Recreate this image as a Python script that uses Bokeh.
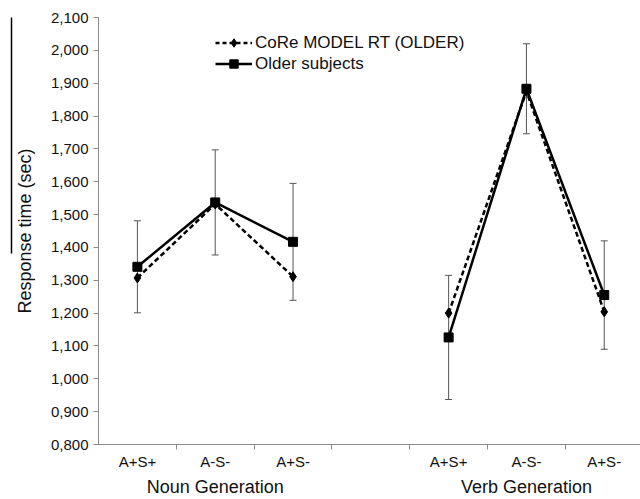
from bokeh.plotting import figure
from bokeh.models import (ColumnDataSource, FixedTicker, LinearAxis, Whisker, TeeHead,
                          Range1d, Legend, LegendItem)
from bokeh.embed import file_html
from bokeh.resources import INLINE

# ---- data ----
categories = ["A+S+", "A-S-", "A+S-", "", "A+S+", "A-S-", "A+S-"]
groups = ["Noun Generation", "Verb Generation"]
noun_idx = [0, 1, 2]
verb_idx = [4, 5, 6]
model_noun = [1307, 1532, 1311]
model_verb = [1200, 1875, 1204]
older_noun = [1341, 1537, 1417]
older_verb = [1126, 1883, 1255]
err_noun = [140, 160, 178]
err_verb = [189, 137, 165]
y_ticks = [800, 900, 1000, 1100, 1200, 1300, 1400, 1500, 1600, 1700, 1800, 1900, 2000, 2100]
y_tick_labels = ["0,800", "0,900", "1,000", "1,100", "1,200", "1,300", "1,400", "1,500",
                 "1,600", "1,700", "1,800", "1,900", "2,000", "2,100"]

FONT = "Liberation Sans"
AXIS_GRAY = "#8a8a8a"
ERR_GRAY = "#555555"
TXT = "#111111"

xn = [i + 0.5 for i in noun_idx]
xv = [i + 0.5 for i in verb_idx]

p = figure(width=640, height=499, output_backend="svg", toolbar_location=None,
           x_range=Range1d(0, 6.966), y_range=Range1d(800, 2100),
           min_border_left=98, min_border_right=0, min_border_top=17, min_border_bottom=55)
p.outline_line_color = None
p.grid.visible = False
p.xaxis.visible = False
p.yaxis.visible = False

# y axis
yax = LinearAxis(ticker=FixedTicker(ticks=y_ticks, minor_ticks=[]),
                 major_label_overrides={t: l for t, l in zip(y_ticks, y_tick_labels)},
                 axis_label="Response time (sec)")
yax.axis_line_color = AXIS_GRAY
yax.major_tick_line_color = AXIS_GRAY
yax.major_tick_out = 5
yax.major_tick_in = 0
yax.minor_tick_line_color = None
yax.major_label_text_font = FONT
yax.major_label_text_font_size = "15px"
yax.major_label_text_color = TXT
yax.major_label_standoff = 5
yax.axis_label_text_font = FONT
yax.axis_label_text_font_size = "18px"
yax.axis_label_text_font_style = "normal"
yax.axis_label_text_color = TXT
yax.axis_label_standoff = 13
p.add_layout(yax, "left")

# thin dark line seen at the far left of the original picture (an axis line with no ticks)
edge = LinearAxis(ticker=FixedTicker(ticks=[], minor_ticks=[]), bounds=(1381, 2155))
edge.axis_line_color = "black"
edge.axis_line_width = 1.5
edge.major_tick_line_color = None
edge.minor_tick_line_color = None
edge.major_tick_out = 0
edge.major_label_text_font_size = "0px"
edge.major_label_standoff = 0
p.add_layout(edge, "left")

# x axis: category labels at centres, ticks at boundaries
centers = [i + 0.5 for i in range(len(categories))]
bounds_t = [float(i) for i in range(1, len(categories))]
xax = LinearAxis(ticker=FixedTicker(ticks=centers, minor_ticks=bounds_t),
                 major_label_overrides={c: l for c, l in zip(centers, categories)})
xax.axis_line_color = AXIS_GRAY
xax.major_tick_line_color = None
xax.major_tick_out = 0
xax.major_tick_in = 0
xax.minor_tick_line_color = AXIS_GRAY
xax.minor_tick_out = 5
xax.minor_tick_in = 0
xax.major_label_text_font = FONT
xax.major_label_text_font_size = "15px"
xax.major_label_text_color = TXT
xax.major_label_standoff = 3
p.add_layout(xax, "below")

# group labels under the category labels (second axis with no line/ticks)
group_pos = [sum(xn) / len(xn), sum(xv) / len(xv)]
gax = LinearAxis(ticker=FixedTicker(ticks=group_pos, minor_ticks=[]),
                 major_label_overrides={c: l for c, l in zip(group_pos, groups)})
gax.axis_line_color = None
gax.major_tick_line_color = None
gax.minor_tick_line_color = None
gax.major_tick_out = 0
gax.major_tick_in = 0
gax.major_label_text_font = FONT
gax.major_label_text_font_size = "18px"
gax.major_label_text_color = TXT
gax.major_label_standoff = 4
p.add_layout(gax, "below")

# error bars on older subjects
err_src = ColumnDataSource(dict(
    x=xn + xv,
    lower=[v - e for v, e in zip(older_noun + older_verb, err_noun + err_verb)],
    upper=[v + e for v, e in zip(older_noun + older_verb, err_noun + err_verb)],
))
wh = Whisker(base="x", lower="lower", upper="upper", source=err_src,
             line_color=ERR_GRAY, line_width=1, level="underlay",
             upper_head=TeeHead(size=7, line_color=ERR_GRAY, line_width=1),
             lower_head=TeeHead(size=7, line_color=ERR_GRAY, line_width=1))
p.add_layout(wh)

# series
for xs, ys in ((xn, model_noun), (xv, model_verb)):
    p.line(xs, ys, line_color="black", line_width=2.5, line_dash="5 3")
    p.scatter(xs, ys, marker="diamond", size=10, color="black")
for xs, ys in ((xn, older_noun), (xv, older_verb)):
    p.line(xs, ys, line_color="black", line_width=2.5)
    p.scatter(xs, ys, marker="square", size=9, color="black")

# legend-only renderers (smaller markers, as in the original key), placed outside the ranges
off = dict(x=[-10.0], y=[0.0])
lm1 = p.line("x", "y", source=ColumnDataSource(off), line_color="black", line_width=2.5, line_dash="4 3")
lm2 = p.scatter("x", "y", source=ColumnDataSource(off), marker="diamond", size=8, color="black")
lo1 = p.line("x", "y", source=ColumnDataSource(off), line_color="black", line_width=2.5)
lo2 = p.scatter("x", "y", source=ColumnDataSource(off), marker="square", size=7, color="black")

legend = Legend(items=[LegendItem(label="CoRe MODEL RT (OLDER)", renderers=[lm1, lm2]),
                       LegendItem(label="Older subjects", renderers=[lo1, lo2])],
                location=(117, 370), orientation="vertical")
legend.glyph_width = 37
legend.glyph_height = 21
legend.label_height = 21
legend.label_standoff = 3
legend.spacing = 0
legend.padding = 0
legend.margin = 0
legend.border_line_color = None
legend.background_fill_alpha = 0
legend.label_text_font = FONT
legend.label_text_font_size = "17px"
legend.label_text_color = TXT
p.add_layout(legend)

open("out.html", "w").write(file_html(p, INLINE))
